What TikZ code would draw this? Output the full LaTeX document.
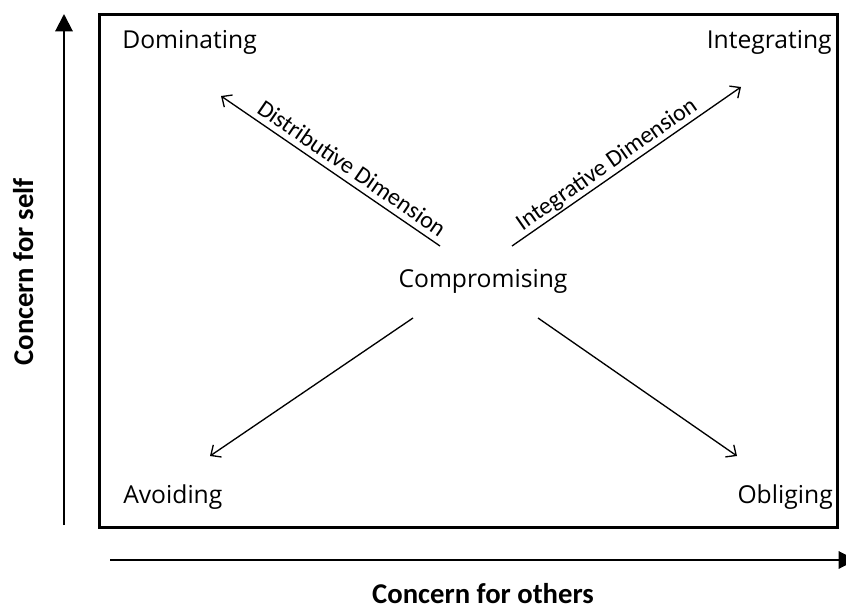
\documentclass[tikz,border=0pt]{standalone}
\usepackage{fontspec}
\setmainfont{Open Sans}
\newfontfamily\calibrifont{Carlito}
\usetikzlibrary{arrows.meta}

\begin{document}
\begin{tikzpicture}[
    x=0.75pt, y=-0.75pt,
    mode/.style={font=\fontsize{18.5}{22}\selectfont, inner sep=0pt},
    axislabel/.style={font=\calibrifont\bfseries\fontsize{21.5}{24}\selectfont, inner sep=0pt},
    dimlabel/.style={font=\calibrifont\fontsize{18}{20}\selectfont, inner sep=0pt},
    axis/.style={line width=1.5pt, -{Triangle[length=13pt,width=13pt]}},
    arrow/.style={line width=1pt, -{Straight Barb[length=6pt,width=11pt]}}
]
    \useasboundingbox (0,0) rectangle (846,610);

    % The frame
    \draw[line width=2.25pt] (99,15) rectangle (837,527);

    % The axes
    \coordinate (yfoot) at (64,525);
    \coordinate (ytip) at (64,14);
    \coordinate (xfoot) at (110,560);
    \coordinate (xtip) at (856,560);
    \draw[axis] (yfoot) -- (ytip);
    \draw[axis] (xfoot) -- (xtip);
    \node[axislabel, anchor=base] (others) at (483,603) {Concern for others};
    \node[axislabel, rotate=90, anchor=base] (self) at (33,272) {Concern for self};

    % The five styles
    \node[mode, anchor=base west] (dom) at (122,49) {Dominating};
    \node[mode, anchor=base east] (integ) at (832,49) {Integrating};
    \node[mode, anchor=base west] (avoid) at (123,503) {Avoiding};
    \node[mode, anchor=base east] (oblig) at (833,503) {Obliging};
    \node[mode, anchor=base] (comp) at (483,287) {Compromising};

    % Arrows out of the centre
    \coordinate (distfrom) at (440,246);
    \coordinate (distto) at (221,96);
    \coordinate (intfrom) at (512,246);
    \coordinate (intto) at (741,87);
    \coordinate (avoidfrom) at (413,318);
    \coordinate (avoidto) at (210,456);
    \coordinate (obligfrom) at (538,318);
    \coordinate (obligto) at (737,456);
    \draw[arrow] (distfrom) -- (distto);
    \draw[arrow] (intfrom) -- (intto);
    \draw[arrow] (avoidfrom) -- (avoidto);
    \draw[arrow] (obligfrom) -- (obligto);

    % Dimensions
    \node[dimlabel, rotate=-34.4] (distlbl) at (352,168) {Distributive Dimension};
    \node[dimlabel, rotate=34.8] (intlbl) at (607,165) {Integrative Dimension};
\end{tikzpicture}
\end{document}
